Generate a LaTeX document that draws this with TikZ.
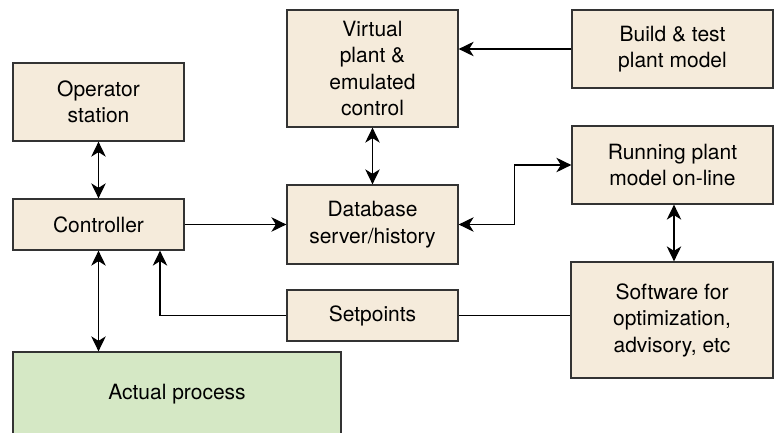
\documentclass[tikz,border=0pt]{standalone}
\usepackage{fontspec}
\setmainfont{TeX Gyre Heros}
\usetikzlibrary{arrows.meta,calc}
\definecolor{beige}{HTML}{F5EBDB}
\definecolor{procgreen}{HTML}{D5E8C5}
\definecolor{edgegray}{HTML}{333333}
\tikzset{
  box/.style={draw=edgegray, line width=1.3pt, fill=beige, align=center, inner sep=0pt,
    font=\fontsize{21}{26.5}\selectfont},
  conn/.style={line width=1.3pt, draw=black},
  tip/.style={-{Stealth[length=15pt,width=14.5pt,inset=4.5pt]}},
  tips/.style={{Stealth[length=15pt,width=14.5pt,inset=4.5pt]}-{Stealth[length=15pt,width=14.5pt,inset=4.5pt]}},
}
\begin{document}
\begin{tikzpicture}[x=1pt,y=-1pt]
\useasboundingbox (0,0) rectangle (774,433);
\fill[white] (0,0) rectangle (774,433);
\node[box, minimum width=171pt, minimum height=78pt] (op) at (98.5,102) {Operator\\station};
\node[box, minimum width=171pt, minimum height=51pt] (ctrl) at (98.5,224.5) {Controller};
\node[box, fill=procgreen, minimum width=328pt, minimum height=84pt] (act) at (177,394) {Actual process};
\node[box, minimum width=171pt, minimum height=117pt] (virt) at (372.5,68.5) {Virtual\\plant \&\\emulated\\control};
\node[box, minimum width=171pt, minimum height=79pt] (db) at (372.5,224.5) {Database\\server/history};
\node[box, minimum width=171pt, minimum height=51pt] (sp) at (372.5,315.5) {Setpoints};
\node[box, minimum width=201pt, minimum height=78pt] (build) at (672.5,49) {Build \& test\\plant model};
\node[box, minimum width=201pt, minimum height=78pt] (run) at (672.5,165) {Running plant\\model on-line};
\node[box, minimum width=202pt, minimum height=116pt] (soft) at (672,320) {Software for\\optimization,\\advisory, etc};

\draw[conn,tips] (op) -- (ctrl);
\draw[conn,tip] (ctrl) -- (db);
\draw[conn,tip] (build.west) -- (build.west -| virt.east);
\draw[conn,tips] (virt) -- (db);
\draw[conn,tips] (db.east) -- ++(56pt,0) |- (run.west);
\draw[conn,tips] ([xshift=1.5pt]run.south) -- ([xshift=2pt]soft.north);
\draw[conn] (sp.east) -- (sp.east -| soft.west);
\draw[conn,tip] (sp.west) -| ([xshift=61.5pt]ctrl.south);
\draw[conn,tips] (ctrl.south) -- (ctrl.south |- act.north);
\end{tikzpicture}
\end{document}
